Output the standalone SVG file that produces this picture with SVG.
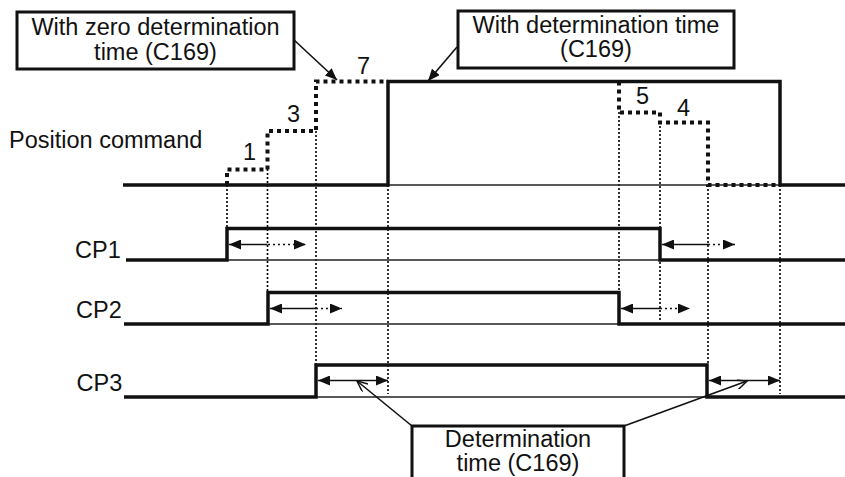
<svg xmlns="http://www.w3.org/2000/svg" width="845" height="477" viewBox="0 0 845 477">
<defs>
<style>
text{font-family:"Liberation Sans",Arial,sans-serif;font-size:23.5px;fill:#111}
.c{text-anchor:middle}
.thick{fill:none;stroke:#111;stroke-width:3.5;stroke-linejoin:miter}
.dots{fill:none;stroke:#111;stroke-width:4;stroke-dasharray:4 4}
.thin{fill:none;stroke:#222;stroke-width:1.3}
.vd{fill:none;stroke:#000;stroke-width:1.6;stroke-dasharray:2 2}
.ar{fill:none;stroke:#111;stroke-width:1.6}
.ard{fill:none;stroke:#111;stroke-width:1.6;stroke-dasharray:2 3}
.box{fill:#fff;stroke:#111;stroke-width:3}
.cl{fill:none;stroke:#111;stroke-width:1.6}
</style>
<marker id="tri" viewBox="0 0 12 10" refX="12" refY="5" markerWidth="12" markerHeight="10" markerUnits="userSpaceOnUse" orient="auto-start-reverse">
<path d="M0,0 L12,5 L0,10 z" fill="#111"/>
</marker>
<marker id="open" viewBox="0 0 12 10" refX="11" refY="5" markerWidth="12" markerHeight="10" markerUnits="userSpaceOnUse" orient="auto">
<path d="M0,0 L11,5 L0,10" fill="none" stroke="#111" stroke-width="1.5"/>
</marker>
</defs>

<g id="guides">
<line class="vd" x1="227" y1="185" x2="227" y2="228"/>
<line class="vd" x1="267.5" y1="169" x2="267.5" y2="292"/>
<line class="vd" x1="316" y1="131" x2="316" y2="365"/>
<line class="vd" x1="388" y1="185" x2="388" y2="394"/>
<line class="vd" x1="619" y1="112" x2="619" y2="292"/>
<line class="vd" x1="660" y1="122" x2="660" y2="322"/>
<line class="vd" x1="708" y1="185" x2="708" y2="365"/>
<line class="vd" x1="780" y1="185" x2="780" y2="394"/>
</g>

<g id="position-command">
<text x="9" y="148">Position command</text>
<line class="thin" x1="123" y1="185" x2="845" y2="185"/>
<polyline class="thick" points="123,185 388,185 388,81.5 780,81.5 780,185 845,185"/>
<polyline class="dots" points="227,185 227,169.5 267.5,169.5 267.5,131 316,131 316,81.5 388,81.5"/>
<polyline class="dots" points="619,81.5 619,112.5 660,112.5 660,122.5 708,122.5 708,185 780,185"/>
<text x="243" y="160">1</text>
<text x="287" y="122">3</text>
<text x="357" y="74">7</text>
<text x="636" y="104">5</text>
<text x="677" y="116">4</text>
</g>

<g id="cp1">
<text x="75" y="258">CP1</text>
<line class="thin" x1="227" y1="260" x2="660" y2="260"/>
<polyline class="thick" points="126,260 227,260 227,228.5 660,228.5 660,260 845,260"/>
</g>

<g id="cp2">
<text x="76" y="318">CP2</text>
<line class="thin" x1="268" y1="324" x2="619" y2="324"/>
<polyline class="thick" points="124,324 268,324 268,292.5 619,292.5 619,324 845,324"/>
</g>

<g id="cp3">
<text x="76.5" y="391">CP3</text>
<line class="thin" x1="316" y1="397" x2="707" y2="397"/>
<polyline class="thick" points="124,397 316,397 316,365 707,365 707,397 845,397"/>
</g>

<g id="connectors">
<line class="ar" x1="267.5" y1="244.5" x2="229" y2="244.5" marker-end="url(#tri)"/>
<line class="ard" x1="268" y1="244.5" x2="306" y2="244.5" marker-end="url(#tri)"/>
<line class="ar" x1="708" y1="244.5" x2="662" y2="244.5" marker-end="url(#tri)"/>
<line class="ard" x1="708" y1="244.5" x2="735" y2="244.5" marker-end="url(#tri)"/>
<line class="ar" x1="316" y1="308.5" x2="270" y2="308.5" marker-end="url(#tri)"/>
<line class="ard" x1="316" y1="308.5" x2="342" y2="308.5" marker-end="url(#tri)"/>
<line class="ar" x1="660" y1="308.5" x2="621" y2="308.5" marker-end="url(#tri)"/>
<line class="ard" x1="660" y1="308.5" x2="690" y2="308.5" marker-end="url(#tri)"/>
<line class="ar" x1="318" y1="380.5" x2="388" y2="380.5" marker-start="url(#tri)" marker-end="url(#tri)"/>
<line class="ar" x1="709" y1="380.5" x2="780" y2="380.5" marker-start="url(#tri)" marker-end="url(#tri)"/>
<line class="cl" x1="293" y1="39" x2="337" y2="80" marker-end="url(#tri)"/>
<line class="cl" x1="457" y1="47" x2="428" y2="81" marker-end="url(#tri)"/>
<line class="cl" x1="412" y1="426" x2="357" y2="381" marker-end="url(#open)"/>
<line class="cl" x1="624" y1="426" x2="747" y2="381" marker-end="url(#open)"/>
</g>

<g id="label-zero">
<rect class="box" x="17" y="12" width="277" height="57"/>
<text class="c" x="155.5" y="35">With zero determination</text>
<text class="c" x="155.5" y="60">time (C169)</text>
</g>

<g id="label-with">
<rect class="box" x="458" y="11" width="276" height="57"/>
<text class="c" x="596" y="33">With determination time</text>
<text class="c" x="596" y="57">(C169)</text>
</g>

<g id="label-determination">
<path class="box" d="M412,480 L412,426 L624,426 L624,480"/>
<text class="c" x="518" y="447">Determination</text>
<text class="c" x="518" y="471">time (C169)</text>
</g>
</svg>
